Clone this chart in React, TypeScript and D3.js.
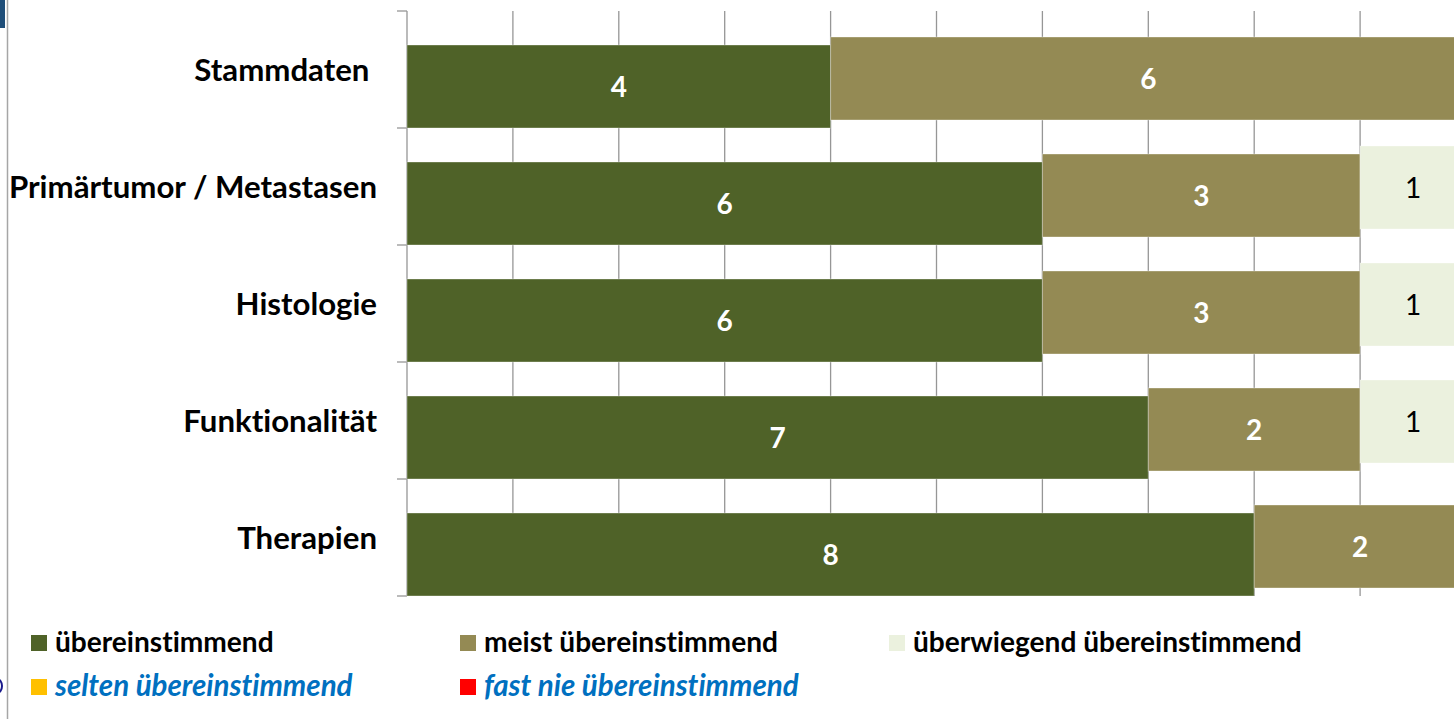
import React from "react";
import * as d3 from "d3";

const categories = ["Stammdaten ", "Primärtumor / Metastasen", "Histologie", "Funktionalität", "Therapien"];
const seriesNames = ["übereinstimmend", "meist übereinstimmend", "überwiegend übereinstimmend", "selten übereinstimmend", "fast nie übereinstimmend"];
const seriesColors = ["#4F6228", "#948A54", "#EBF1DE", "#FFC000", "#FF0000"];
const valUebereinstimmend = [4, 6, 6, 7, 8];
const valMeist = [6, 3, 3, 2, 2];
const valUeberwiegend = [0, 1, 1, 1, 0];
const valSelten = [0, 0, 0, 0, 0];
const valFastNie = [0, 0, 0, 0, 0];
const xTicks = [0, 1, 2, 3, 4, 5, 6, 7, 8, 9, 10];

const W = 1454;
const H = 719;
const FONT = "Lato, 'Open Sans', sans-serif";
const noLig = { fontVariantLigatures: "none", fontFeatureSettings: "'liga' 0, 'clig' 0", whiteSpace: "pre" } as any;

export default function App() {
  const series = [valUebereinstimmend, valMeist, valUeberwiegend, valSelten, valFastNie];
  const x = d3.scaleLinear().domain([0, 10]).range([407, 1466]);
  const y = d3.scaleBand<string>().domain(categories).range([11, 596]).paddingInner(0).paddingOuter(0);
  const bw = y.bandwidth();
  const barH = 83;
  const stackData = categories.map((c, i) => {
    const row: any = { cat: c };
    seriesNames.forEach((s, j) => (row[s] = series[j][i]));
    return row;
  });
  const stacked = d3.stack<any>().keys(seriesNames)(stackData);

  const bandEdges = categories.map((c) => y(c)!).concat([596]);

  return (
    <svg width={W} height={H} style={{ position: "absolute", left: 0, top: 0, background: "#fff" }}>
      <rect x={0} y={0} width={W} height={H} fill="#fff" />
      {/* left decorative elements */}
      <rect x={0} y={0} width={5} height={28} fill="#1F4E79" />
      <line x1={7.5} y1={0} x2={7.5} y2={H} stroke="#A6A6A6" strokeWidth={1.5} />
      <ellipse cx={-3} cy={686} rx={5} ry={7} fill="none" stroke="#1a1a8c" strokeWidth={2} />

      {/* grid */}
      {xTicks.map((t) => (
        <line key={t} x1={x(t)} x2={x(t)} y1={11} y2={596} stroke="#969696" strokeWidth={1.3} />
      ))}
      {/* axis ticks */}
      {bandEdges.map((e, i) => (
        <line key={i} x1={397} x2={407} y1={e} y2={e} stroke="#969696" strokeWidth={1.3} />
      ))}

      {/* bars */}
      {stacked.map((layer, j) =>
        layer.map((d, i) => {
          const v = d[1] - d[0];
          if (v <= 0) return null;
          const c = categories[i];
          const top = y(c)! + bw - barH - 8 * j;
          const x0 = x(d[0]);
          const x1 = x(d[1]);
          const light = j === 2;
          return (
            <g key={`${j}-${i}`}>
              <rect x={x0} y={top} width={x1 - x0} height={barH} fill={seriesColors[j]} stroke="rgba(255,255,255,0.35)" strokeWidth={1} />
              <text
                x={(x0 + x1) / 2}
                y={top + barH / 2 + 10}
                textAnchor="middle"
                fontFamily={FONT}
                fontSize={28}
                fontWeight={light ? 400 : 700}
                fill={light ? "#000" : "#fff"}
              >
                {v}
              </text>
            </g>
          );
        })
      )}

      {/* category labels */}
      {categories.map((c) => (
        <text
          key={c}
          x={377}
          y={y(c)! + bw / 2 + 11}
          textAnchor="end"
          fontFamily={FONT}
          fontSize={31.2}
          fontWeight={700}
          fill="#000"
          style={noLig}
        >
          {c}
        </text>
      ))}

      {/* legend */}
      {seriesNames.map((s, j) => {
        const col = j % 3;
        const row = Math.floor(j / 3);
        const lx = [31, 460, 889][col];
        const ly = [635, 679][row];
        const italic = row === 1;
        return (
          <g key={s}>
            <rect x={lx} y={ly} width={16} height={16} fill={seriesColors[j]} />
            <text
              x={lx + 24}
              y={ly + 17}
              fontFamily={FONT}
              fontSize={italic ? 29.5 : 28.1}
              fontWeight={700}
              fontStyle={italic ? "italic" : "normal"}
              fill={italic ? "#0070C0" : "#000"}
              style={noLig}
            >
              {s}
            </text>
          </g>
        );
      })}
    </svg>
  );
}
